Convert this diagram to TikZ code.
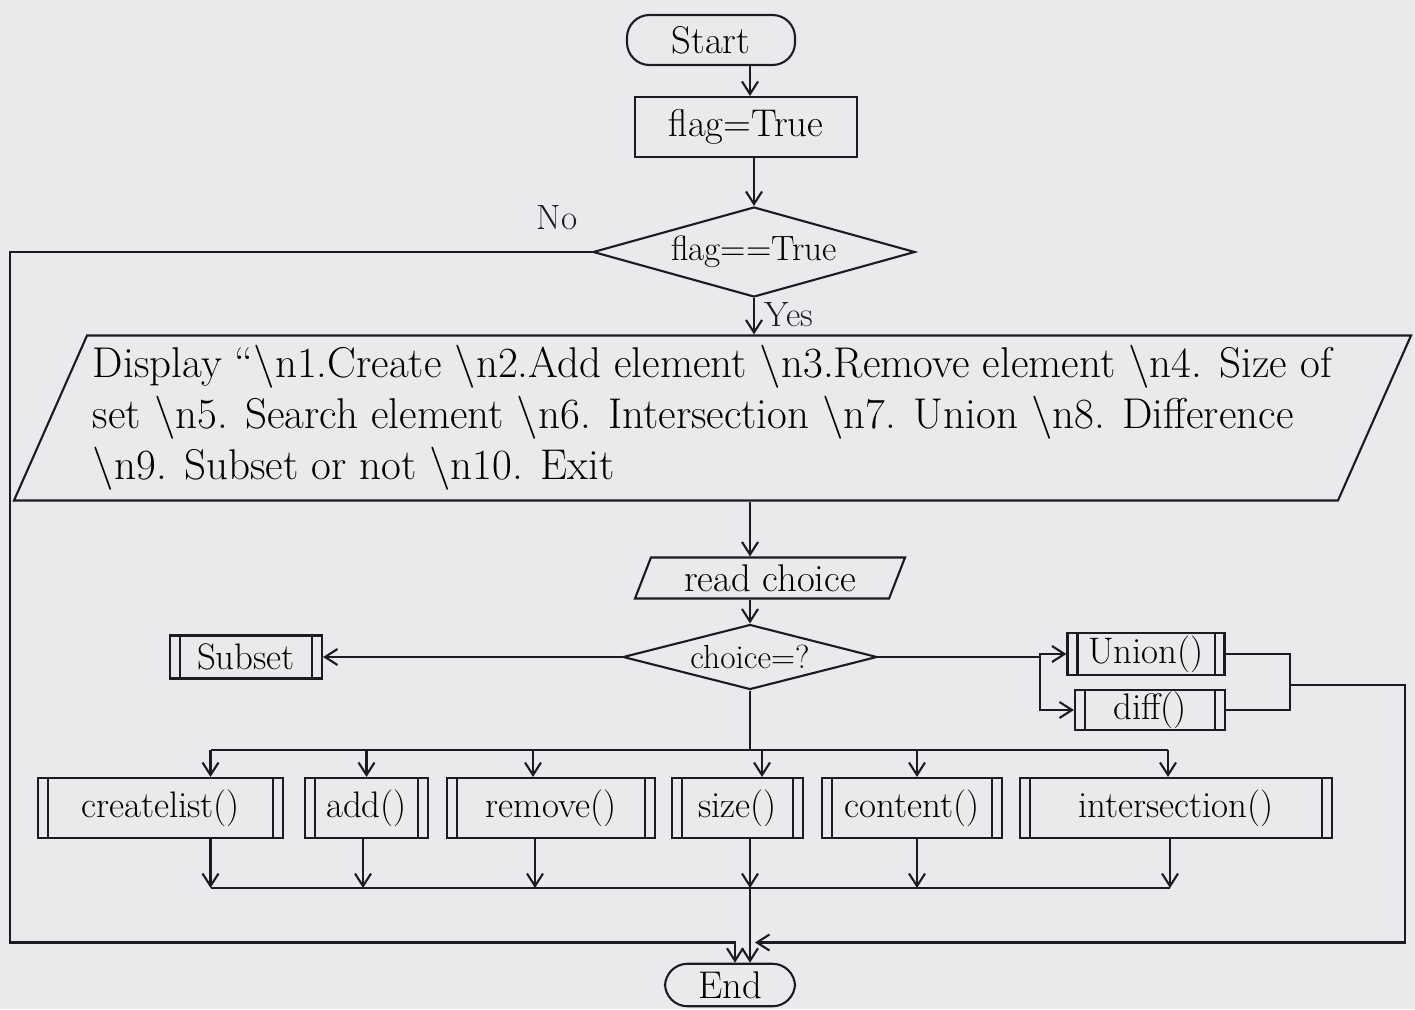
\documentclass[tikz,border=0pt]{standalone}
\usepackage{tikz}
\usetikzlibrary{shapes.geometric, arrows.meta, positioning, calc}
\definecolor{paper}{RGB}{232, 234, 236}
\definecolor{pen}{RGB}{28, 28, 32}
\tikzset{
  termbox/.style={rectangle, rounded corners=0.45cm, draw=pen, line width=1.2pt,
                  minimum width=#1, minimum height=0.95cm, font=\fontsize{22}{26}\selectfont},
  termbox/.default=3cm,
  procbox/.style={rectangle, draw=pen, line width=1.2pt, minimum width=#1,
                  minimum height=1.2cm, font=\fontsize{22}{26}\selectfont},
  procbox/.default=4.4cm,
  subproc/.style={rectangle, draw=pen, line width=1.2pt, minimum width=#1,
                  minimum height=1.2cm, inner xsep=0.3cm, inner ysep=1pt,
                  font=\fontsize{21}{25}\selectfont},
  subproc/.default=3cm,
  decision/.style={diamond, draw=pen, line width=1.2pt, aspect=3.6, inner sep=0pt,
                   font=\fontsize{20}{24}\selectfont},
  iobox/.style={trapezium, trapezium left angle=65, trapezium right angle=115,
                trapezium stretches body, draw=pen, line width=1.2pt,
                font=\fontsize{22}{26}\selectfont},
  arr/.style={-{Straight Barb[length=2.5mm, width=3.2mm]}, draw=pen, line width=1.2pt},
  wire/.style={draw=pen, line width=1.2pt},
  lbl/.style={font=\fontsize{20}{24}\selectfont, text=pen},
}

\begin{document}
\begin{tikzpicture}
  \fill[paper] (0,0) rectangle (28.3,-20.18);
  \useasboundingbox (0,0) rectangle (28.3,-20.18);

  % main column
  \node[termbox=3.36cm, minimum height=1cm] (start) at (14.22,-0.8) {Start};
  \node[procbox=4.44cm] (flag) at (14.92,-2.54) {flag=True};
  \node[decision, minimum width=6.44cm, minimum height=1.8cm] (check) at (15.08,-5.04) {flag==True};
  \node[iobox, minimum width=27.9cm, minimum height=3.3cm, align=left,
        font=\fontsize{24.5}{29}\selectfont] (menu) at (14.25,-8.36)
    {Display “\textbackslash n1.Create \textbackslash n2.Add element \textbackslash n3.Remove element \textbackslash n4. Size of\\
     set \textbackslash n5. Search element \textbackslash n6. Intersection \textbackslash n7. Union \textbackslash n8. Difference\\
     \textbackslash n9. Subset or not \textbackslash n10. Exit};
  \node[iobox, minimum width=5.4cm, minimum height=0.82cm, inner sep=2pt] (readc) at (15.4,-11.56) {read choice};
  \node[decision, aspect=3.9, minimum width=5.08cm, minimum height=1.3cm,
        font=\fontsize{19}{22}\selectfont] (choice) at (15.0,-13.14) {choice=?};

  % side calls
  \node[subproc=3.04cm, minimum height=0.86cm] (subset) at (4.92,-13.14) {Subset};
  \node[subproc=3.14cm, minimum height=0.84cm] (union) at (22.92,-13.08) {Union()};
  \node[subproc=3.0cm, minimum height=0.8cm] (diff) at (23.0,-14.2) {diff()};

  % call row
  \node[subproc=4.9cm] (cl) at (3.21,-16.16) {createlist()};
  \node[subproc=2.46cm] (ad) at (7.33,-16.16) {add()};
  \node[subproc=4.16cm] (rm) at (11.02,-16.16) {remove()};
  \node[subproc=2.62cm] (sz) at (14.75,-16.16) {size()};
  \node[subproc=3.6cm] (ct) at (18.24,-16.16) {content()};
  \node[subproc=6.24cm] (is) at (23.52,-16.16) {intersection()};

  \node[termbox=2.6cm, minimum height=0.85cm] (end) at (14.6,-19.7) {End};

  % inner bars of the call boxes
  \foreach \b in {subset, union, diff, cl, ad, rm, sz, ct, is} {
    \draw[wire] ([xshift=0.22cm]\b.north west) -- ([xshift=0.22cm]\b.south west);
    \draw[wire] ([xshift=-0.22cm]\b.north east) -- ([xshift=-0.22cm]\b.south east);
  }

  \coordinate (spine) at (15.0,0);
  \coordinate (nocorner) at (0.2,-18.85);
  \coordinate (split) at (20.8,0);
  \coordinate (rjoin) at (25.8,-13.7);
  \coordinate (rcorner) at (28.1,-18.85);
  \coordinate (topbus) at (0,-15.0);
  \coordinate (botbus) at (0,-17.76);

  % connectors
  \draw[arr] (start.south -| spine) -- (flag.north -| spine);
  \draw[arr] (flag.south -| check.north) -- (check.north);
  \draw[arr] (check.south) -- (check.south |- menu.north)
    node[lbl, right=2pt, pos=0.45] {Yes};
  \draw[arr] (check.west) -- (check.west -| nocorner)
    node[lbl, pos=0.06, above=0.3cm] {No}
    -- (nocorner) -| ([xshift=0.1cm]end.north);
  \draw[arr] (menu.south -| choice.north) -- (choice.north |- readc.north);
  \draw[arr] (readc.south -| choice.north) -- (choice.north);
  \draw[arr] (choice.west) -- (subset.east);
  \draw[wire] (choice.east) -- (choice.east -| split);
  \draw[arr] (choice.east -| split) |- (union.west);
  \draw[arr] (choice.east -| split) |- (diff.west);
  \draw[wire] (union.east) -| (rjoin) |- (diff.east);
  \draw[arr] (rjoin) -- (rjoin -| rcorner) -- (rcorner) -- ([xshift=1mm]rcorner -| spine);

  % fan out and back
  \draw[wire] (choice.south) -- (choice.south |- topbus);
  \draw[wire] ([xshift=1cm]cl.north |- topbus) -- ([xshift=-0.16cm]is.north |- topbus);
  \draw[wire] ([xshift=1cm]cl.south |- botbus) -- ([xshift=-0.12cm]is.south |- botbus);
  \foreach \b/\dt/\db in {cl/1.0/1.0, ad/0/-0.07, rm/-0.36/-0.32, sz/0.49/0.25, ct/0.1/0.1, is/-0.16/-0.12} {
    \draw[arr] ([xshift=\dt cm]\b.north |- topbus) -- ([xshift=\dt cm]\b.north);
    \draw[arr] ([xshift=\db cm]\b.south) -- ([xshift=\db cm]\b.south |- botbus);
  }
  \draw[arr] (botbus -| spine) -- (end.north -| spine);
\end{tikzpicture}
\end{document}
